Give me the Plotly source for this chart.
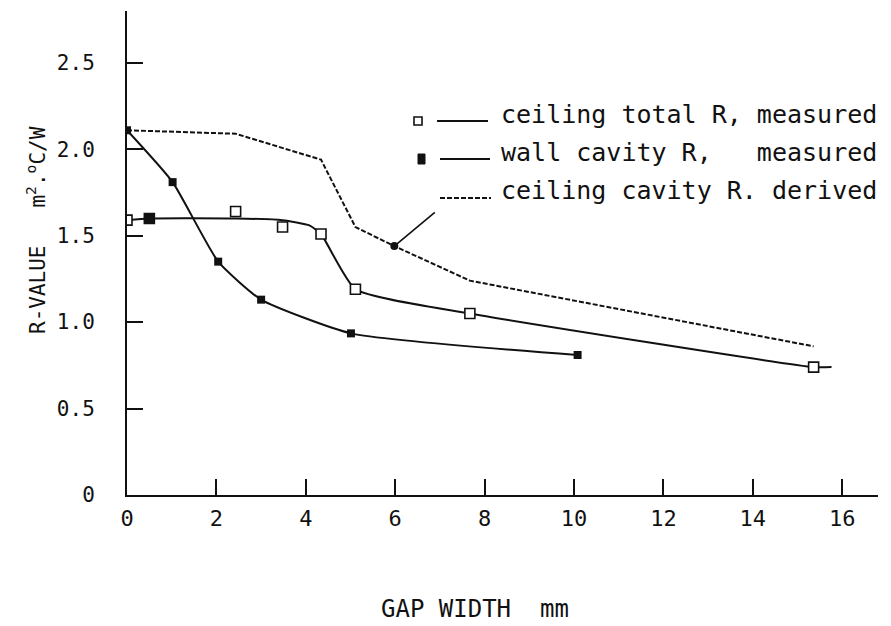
import plotly.graph_objects as go

# ---------------- data ----------------
# ceiling total R, measured (markers)
ceiling_total_x = [0.0, 0.5, 2.43, 3.48, 4.34, 5.11, 7.67, 15.36]
ceiling_total_y = [1.59, 1.60, 1.64, 1.55, 1.51, 1.19, 1.05, 0.74]
ceiling_total_filled = [False, True, False, False, False, False, False, False]
# fitted curve drawn through the ceiling total points
ceiling_fit_x = [0.0, 0.5, 2.43, 3.48, 4.08, 4.34, 5.11, 7.67, 15.36, 15.76]
ceiling_fit_y = [1.59, 1.60, 1.60, 1.59, 1.56, 1.51, 1.19, 1.05, 0.74, 0.74]

# wall cavity R, measured
wall_x = [0.0, 1.02, 2.04, 3.0, 5.01, 10.08]
wall_y = [2.11, 1.81, 1.35, 1.13, 0.935, 0.81]

# ceiling cavity R, derived
derived_x = [0.0, 2.43, 4.34, 5.11, 5.98, 7.67, 15.36]
derived_y = [2.11, 2.09, 1.94, 1.55, 1.44, 1.24, 0.86]
derived_pointer_index = 4

x_ticks = [0, 2, 4, 6, 8, 10, 12, 14, 16]
y_ticks = [0, 0.5, 1.0, 1.5, 2.0, 2.5]
y_tick_text = ["0", "0.5", "1.0", "1.5", "2.0", "2.5"]

legend_labels = ["ceiling total R, measured",
                 "wall cavity R,\u00a0\u00a0\u00a0measured",
                 "ceiling cavity R. derived"]
x_title = "GAP WIDTH\u00a0\u00a0mm"
y_title = "R-VALUE\u00a0\u00a0\u00a0m<sup>2</sup>.<sup>o</sup>C/W"

# ---------------- layout geometry ----------------
W_FIG, H_FIG = 891, 626
L, R, T, B = 127, 878, 11, 495
PW, PH = R - L, B - T


def px(x):
    return (x - L) / PW


def py(y):
    return (B - y) / PH


FONT = "DejaVu Sans Mono"
INK = "#111111"

fig = go.Figure()

# fitted ceiling total curve
fig.add_trace(go.Scatter(
    x=ceiling_fit_x, y=ceiling_fit_y, mode="lines",
    line=dict(color=INK, width=2, shape="spline", smoothing=0.5),
    hoverinfo="skip", showlegend=False))

# wall cavity curve with markers
fig.add_trace(go.Scatter(
    x=wall_x, y=wall_y, mode="lines+markers",
    line=dict(color=INK, width=2, shape="spline", smoothing=0.5),
    marker=dict(symbol="square", size=8, color=INK),
    showlegend=False))

# derived ceiling cavity curve (dashed)
fig.add_trace(go.Scatter(
    x=derived_x, y=derived_y, mode="lines",
    line=dict(color=INK, width=2, dash="5px,2px"),
    showlegend=False))

# pointer dot on the derived curve
fig.add_trace(go.Scatter(
    x=[derived_x[derived_pointer_index]], y=[derived_y[derived_pointer_index]],
    mode="markers", marker=dict(symbol="circle", size=8, color=INK),
    showlegend=False))

# ceiling total markers
fig.add_trace(go.Scatter(
    x=ceiling_total_x, y=ceiling_total_y, mode="markers",
    marker=dict(symbol="square", size=10,
                color=[INK if f else "white" for f in ceiling_total_filled],
                line=dict(color=INK, width=1.6)),
    showlegend=False))

shapes = []
annotations = []

# legend rows (symbol, line, text)
row_line_y = [121, 159, 198]
row_text_y = [115, 152, 190]
# row 1 symbol: open square
shapes.append(dict(type="rect", xref="paper", yref="paper",
                   x0=px(414), x1=px(422), y0=py(125), y1=py(117),
                   line=dict(color=INK, width=1.6), fillcolor="white"))
# row 2 symbol: filled square
shapes.append(dict(type="rect", xref="paper", yref="paper",
                   x0=px(418), x1=px(425), y0=py(164), y1=py(154),
                   line=dict(color=INK, width=1), fillcolor=INK))
line_x0 = [437, 440, 440]
line_x1 = [488, 490, 491]
dashes = ["solid", "solid", "5px,2px"]
for i in range(3):
    shapes.append(dict(type="line", xref="paper", yref="paper",
                       x0=px(line_x0[i]), x1=px(line_x1[i]),
                       y0=py(row_line_y[i]), y1=py(row_line_y[i]),
                       line=dict(color=INK, width=2, dash=dashes[i])))
    annotations.append(dict(xref="paper", yref="paper", x=px(499), y=py(row_text_y[i]),
                            xanchor="left", yanchor="middle", showarrow=False,
                            text=legend_labels[i],
                            font=dict(family=FONT, size=25, color=INK)))

# pointer line from the derived curve to the legend
annotations.append(dict(x=derived_x[derived_pointer_index], y=derived_y[derived_pointer_index],
                        xref="x", yref="y", text="", showarrow=True, arrowhead=0,
                        arrowwidth=1.6, arrowcolor=INK, ax=42, ay=-35, standoff=0))

# axis titles
annotations.append(dict(xref="paper", yref="paper", x=px(475), y=py(609),
                        xanchor="center", yanchor="middle", showarrow=False,
                        text=x_title, font=dict(family=FONT, size=24, color=INK)))
annotations.append(dict(xref="paper", yref="paper", x=px(36), y=py(230),
                        xanchor="center", yanchor="middle", showarrow=False,
                        textangle=-90, text=y_title,
                        font=dict(family=FONT, size=21, color=INK)))

fig.update_layout(
    width=W_FIG, height=H_FIG,
    margin=dict(l=L, r=W_FIG - R, t=T, b=H_FIG - B, pad=0),
    paper_bgcolor="white", plot_bgcolor="white",
    shapes=shapes, annotations=annotations,
    showlegend=False,
)
fig.update_xaxes(
    range=[0, 16.8], tickvals=x_ticks, ticktext=[str(v) for v in x_ticks],
    showline=True, linecolor=INK, linewidth=2,
    ticks="inside", ticklen=16, tickwidth=2, tickcolor=INK,
    showgrid=False, zeroline=False, ticklabelstandoff=3,
    tickfont=dict(family=FONT, size=22, color=INK))
fig.update_yaxes(
    range=[0, 2.8], tickvals=y_ticks, ticktext=y_tick_text,
    showline=True, linecolor=INK, linewidth=2,
    ticks="inside", ticklen=16, tickwidth=2, tickcolor=INK,
    showgrid=False, zeroline=False, ticklabelstandoff=26,
    tickfont=dict(family=FONT, size=21, color=INK))

fig.write_html("out.html", config={"displayModeBar": False},
               post_script="document.body.style.margin='0';document.body.style.padding='0';")
